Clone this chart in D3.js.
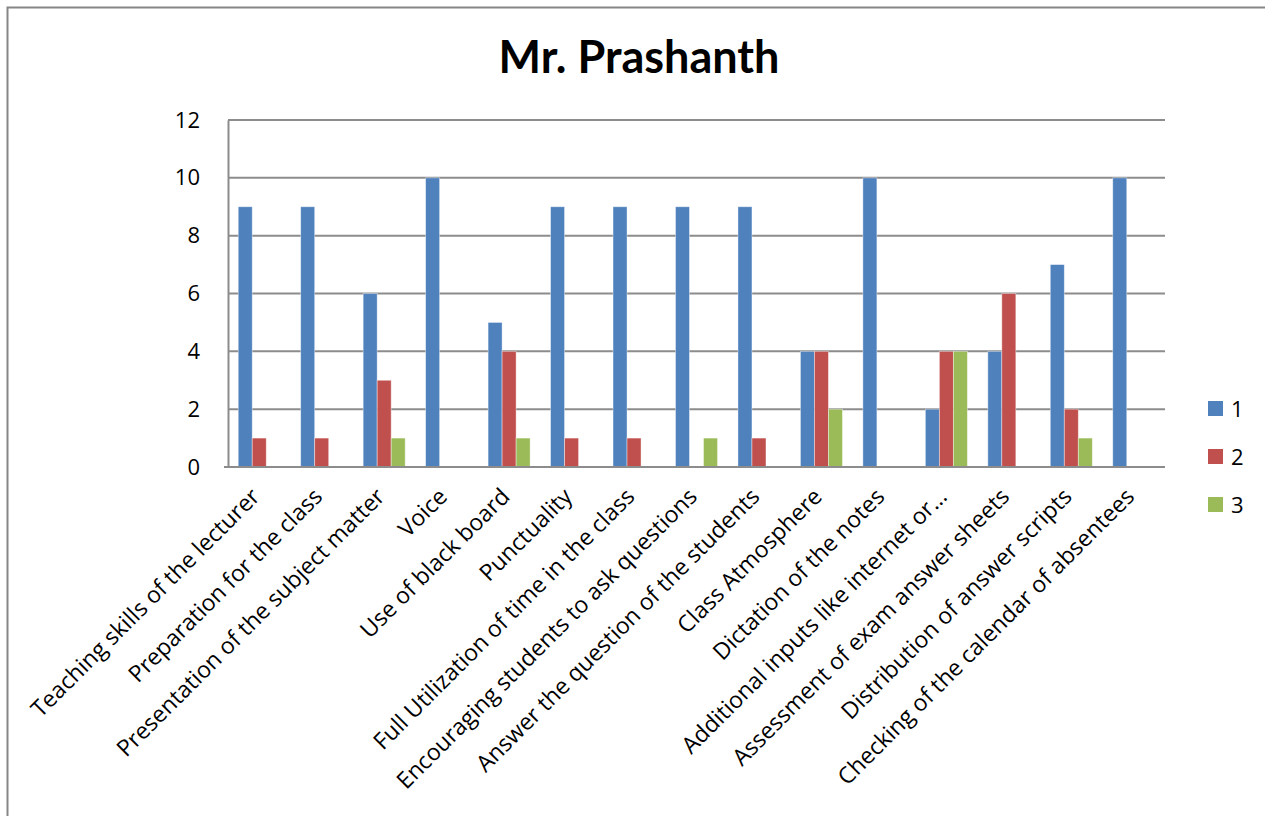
<!DOCTYPE html>
<html>
<head>
<meta charset="utf-8">
<script src="https://cdn.jsdelivr.net/npm/d3@7"></script>
<style>
  body { margin: 0; background: #fff; }
  svg { display: block; font-family: "Open Sans", sans-serif; }
</style>
</head>
<body>
<svg id="chart" width="1265" height="816"></svg>
<script>
var categories = [
    "Teaching skills of the lecturer",
    "Preparation for the class",
    "Presentation of the subject matter",
    "Voice",
    "Use of black board",
    "Punctuality",
    "Full Utilization of time in the class",
    "Encouraging students to ask questions",
    "Answer the question of the students",
    "Class Atmosphere",
    "Dictation of the notes",
    "Additional inputs like internet or\u2026",
    "Assessment of exam answer sheets",
    "Distribution of answer scripts",
    "Checking of the calendar of absentees"
];
var seriesNames = ["1", "2", "3"];
var series1 = [9, 9, 6, 10, 5, 9, 9, 9, 9, 4, 10, 2, 4, 7, 10];
var series2 = [1, 1, 3, 0, 4, 1, 1, 0, 1, 4, 0, 4, 6, 2, 0];
var series3 = [0, 0, 1, 0, 1, 0, 0, 1, 0, 2, 0, 4, 0, 1, 0];
var yTicks = [0, 2, 4, 6, 8, 10, 12];
var colors = ["#4F81BD", "#C0504D", "#9BBB59"];

var svg = d3.select("#chart");
var plot = { left: 228, right: 1165, top: 120, bottom: 467 };

// outer chart border (right/bottom run off the picture)
svg.append("rect")
    .attr("x", 7.5).attr("y", 7.5)
    .attr("width", 1300).attr("height", 900)
    .attr("fill", "none")
    .attr("stroke", "#868686")
    .attr("stroke-width", 2);

svg.append("text")
    .attr("x", 639).attr("y", 73)
    .attr("text-anchor", "middle")
    .attr("font-family", "Lato, sans-serif")
    .attr("font-size", 45)
    .attr("font-weight", "bold")
    .attr("fill", "#000")
    .text("Mr. Prashanth");

var x0 = d3.scaleBand()
    .domain(d3.range(categories.length))
    .range([plot.left, plot.right])
    .padding(0);
var x1 = d3.scaleBand()
    .domain([0, 1, 2])
    .range([0, x0.bandwidth()])
    .paddingInner(0)
    .paddingOuter(0.73);
var y = d3.scaleLinear().domain([0, 12]).range([plot.bottom, plot.top]);

// gridlines
svg.append("g")
    .selectAll("line")
    .data(yTicks)
    .enter()
    .append("line")
    .attr("x1", plot.left).attr("x2", plot.right)
    .attr("y1", function (d) { return y(d); })
    .attr("y2", function (d) { return y(d); })
    .attr("stroke", "#8c8c8c")
    .attr("stroke-width", 2);

// y axis
var yAxis = svg.append("g")
    .attr("transform", "translate(" + plot.left + ",0)")
    .call(d3.axisLeft(y).tickValues(yTicks).tickSize(0).tickPadding(28));
yAxis.select(".domain").attr("stroke", "#8c8c8c").attr("stroke-width", 2);
yAxis.selectAll("text")
    .attr("font-size", 22)
    .attr("font-family", "'Open Sans', sans-serif")
    .attr("fill", "#000");

// bars
var data = [series1, series2, series3];
var groups = svg.append("g")
    .selectAll("g.series")
    .data(data)
    .enter()
    .append("g")
    .attr("class", "series")
    .attr("fill", function (d, i) { return colors[i]; });

groups.each(function (vals, si) {
    var pts = vals.map(function (v, i) { return { v: v, i: i }; })
                  .filter(function (d) { return d.v > 0; });
    d3.select(this).selectAll("rect")
        .data(pts)
        .enter()
        .append("rect")
        .attr("x", function (d) { return x0(d.i) + x1(si); })
        .attr("width", x1.bandwidth())
        .attr("y", function (d) { return y(d.v); })
        .attr("height", function (d) { return y(0) - y(d.v); })
        .attr("stroke", "#ffffff")
        .attr("stroke-opacity", 0.5)
        .attr("stroke-width", 0.8);
});
// redraw the x baseline above bars
svg.append("line")
    .attr("x1", plot.left - 4).attr("x2", plot.right)
    .attr("y1", y(0)).attr("y2", y(0))
    .attr("stroke", "#8c8c8c")
    .attr("stroke-width", 2);

// category labels, rotated
svg.append("g")
    .selectAll("text")
    .data(categories)
    .enter()
    .append("text")
    .attr("transform", function (d, i) {
        var cx = x0(i) + x0.bandwidth() / 2 + 2;
        return "translate(" + cx + "," + 498 + ") rotate(-45)";
    })
    .attr("text-anchor", "end")
    .attr("font-size", 23)
    .attr("fill", "#000")
    .text(function (d) { return d; });

// legend
var legend = svg.append("g")
    .selectAll("g")
    .data(seriesNames)
    .enter()
    .append("g")
    .attr("transform", function (d, i) { return "translate(1208," + (401 + i * 48) + ")"; });
legend.append("rect")
    .attr("width", 15).attr("height", 15)
    .attr("fill", function (d, i) { return colors[i]; });
legend.append("text")
    .attr("x", 23).attr("y", 16)
    .attr("font-size", 22)
    .attr("fill", "#000")
    .text(function (d) { return d; });
</script>
</body>
</html>
